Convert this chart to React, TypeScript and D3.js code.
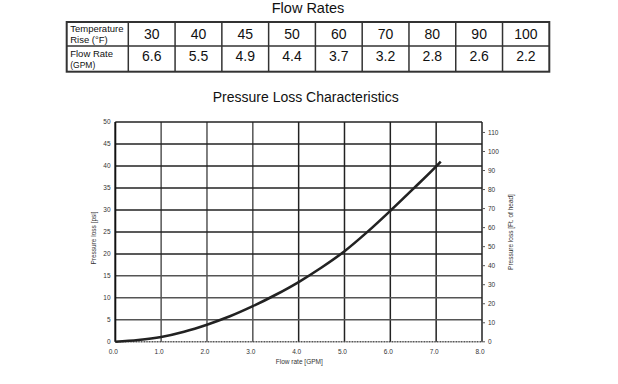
import React from "react";
import * as d3 from "d3";

// flow rate table
const tempRise = ["30", "40", "45", "50", "60", "70", "80", "90", "100"];
const flowRate = ["6.6", "5.5", "4.9", "4.4", "3.7", "3.2", "2.8", "2.6", "2.2"];

// pressure loss curve, flow [GPM] vs loss [psi]
const flowGpm = [0, 0.5, 1, 1.5, 2, 2.5, 3, 3.5, 4, 4.5, 5, 5.5, 6, 6.5, 7, 7.1];
const lossPsi = [0, 0.4, 1.1, 2.3, 3.9, 5.8, 8.1, 10.7, 13.6, 16.9, 20.6, 25.0, 29.8, 34.8, 39.9, 41.0];

const xTicks = [0, 1, 2, 3, 4, 5, 6, 7, 8];
const psiTicks = [0, 5, 10, 15, 20, 25, 30, 35, 40, 45, 50];
const ftTicks = [0, 10, 20, 30, 40, 50, 60, 70, 80, 90, 100, 110];
const FT_PER_PSI = 2.31;

const font = "'Liberation Sans', Arial, sans-serif";

function FlowTable() {
  const left = 66.7, firstW = 61.6, right = 549.3;
  const top = 22, mid = 46, bottom = 71.7;
  const col = d3.scaleBand<string>().domain(tempRise.map((_, i) => String(i))).range([left + firstW, right]);
  return (
    <g>
      <text x={308} y={13} textAnchor="middle" fontSize={14.5} fill="#111">Flow Rates</text>
      <rect x={left} y={top} width={right - left} height={bottom - top} fill="none" stroke="#333" strokeWidth={2} />
      <line x1={left} x2={right} y1={mid} y2={mid} stroke="#333" strokeWidth={1.5} />
      <line x1={left + firstW} x2={left + firstW} y1={top} y2={bottom} stroke="#333" strokeWidth={1.5} />
      {tempRise.map((_, i) => i > 0 && (
        <line key={i} x1={col(String(i))!} x2={col(String(i))!} y1={top} y2={bottom} stroke="#333" strokeWidth={1.5} />
      ))}
      <text x={left + 3.5} y={32.3} fontSize={9.5} fill="#111">Temperature</text>
      <text x={left + 3.5} y={43.3} fontSize={9.5} fill="#111">Rise (°F)</text>
      <text x={left + 3.5} y={56.5} fontSize={9.5} fill="#111">Flow Rate</text>
      <text x={left + 3.5} y={67.8} fontSize={8.5} fill="#111">(GPM)</text>
      {tempRise.map((t, i) => (
        <text key={"t" + i} x={col(String(i))! + col.bandwidth() / 2} y={39.3} textAnchor="middle" fontSize={14} fill="#111">{t}</text>
      ))}
      {flowRate.map((f, i) => (
        <text key={"f" + i} x={col(String(i))! + col.bandwidth() / 2} y={61} textAnchor="middle" fontSize={14} fill="#111">{f}</text>
      ))}
    </g>
  );
}

function LossChart() {
  const x = d3.scaleLinear().domain([0, 8]).range([115.3, 482]);
  const y = d3.scaleLinear().domain([0, 50]).range([341.8, 122]);
  const yFt = d3.scaleLinear().domain([0, 50 * FT_PER_PSI]).range([341.8, 122]);
  const pts: [number, number][] = flowGpm.map((f, i) => [f, lossPsi[i]]);
  const line = d3.line<[number, number]>()
    .x(d => x(d[0]))
    .y(d => y(d[1]))
    .curve(d3.curveMonotoneX);

  return (
    <g>
      <text x={305.7} y={101.5} textAnchor="middle" fontSize={14} fill="#111">Pressure Loss Characteristics</text>

      {xTicks.slice(1, -1).map(t => (
        <line key={"vx" + t} x1={x(t)} x2={x(t)} y1={y(50)} y2={y(0)} stroke={t <= 3 ? "#555" : "#222"} strokeWidth={1.5} />
      ))}
      {psiTicks.slice(1, -1).map(t => (
        <line key={"hy" + t} x1={x(0)} x2={x(8)} y1={y(t)} y2={y(t)} stroke={t <= 15 ? "#555" : "#222"} strokeWidth={1.5} />
      ))}
      <line x1={x(0)} x2={x(8)} y1={y(50)} y2={y(50)} stroke="#222" strokeWidth={1.5} />
      <line x1={x(8)} x2={x(8)} y1={y(50)} y2={y(0)} stroke="#222" strokeWidth={1.5} />
      <line x1={x(0)} x2={x(8)} y1={y(0)} y2={y(0)} stroke="#444" strokeWidth={1.5} strokeDasharray="1 0.6" />
      <line x1={x(0)} x2={x(0)} y1={y(50)} y2={y(0)} stroke="#111" strokeWidth={2} />

      <path d={line(pts) ?? ""} fill="none" stroke="#222" strokeWidth={2.6} />

      {psiTicks.map(t => (
        <text key={"yl" + t} x={110.5} y={y(t) + 2.2} textAnchor="end" fontSize={6.5} fill="#333">{t}</text>
      ))}
      {xTicks.map(t => (
        <text key={"xl" + t} x={x(t) - 2} y={353.8} textAnchor="middle" fontSize={6.5} fill="#333">{t.toFixed(1)}</text>
      ))}
      {ftTicks.map(t => (
        <g key={"rt" + t}>
          <line x1={x(8)} x2={x(8) + 3} y1={yFt(t)} y2={yFt(t)} stroke="#555" strokeWidth={1} />
          <text x={488} y={yFt(t) + 2.2} fontSize={6.5} fill="#333">{t}</text>
        </g>
      ))}

      <text x={299.3} y={364} textAnchor="middle" fontSize={6.5} fill="#333">Flow rate [GPM]</text>
      <text transform={`translate(95.5,238) rotate(-90)`} textAnchor="middle" fontSize={6.5} fill="#333">Pressure loss [psi]</text>
      <text transform={`translate(512.5,232) rotate(-90)`} textAnchor="middle" fontSize={6.5} fill="#333">Pressure loss [Ft. of head]</text>
    </g>
  );
}

export default function App() {
  return (
    <svg width={618} height={384} style={{ position: "absolute", left: 0, top: 0, background: "#fff" }} fontFamily={font}>
      <FlowTable />
      <LossChart />
    </svg>
  );
}
